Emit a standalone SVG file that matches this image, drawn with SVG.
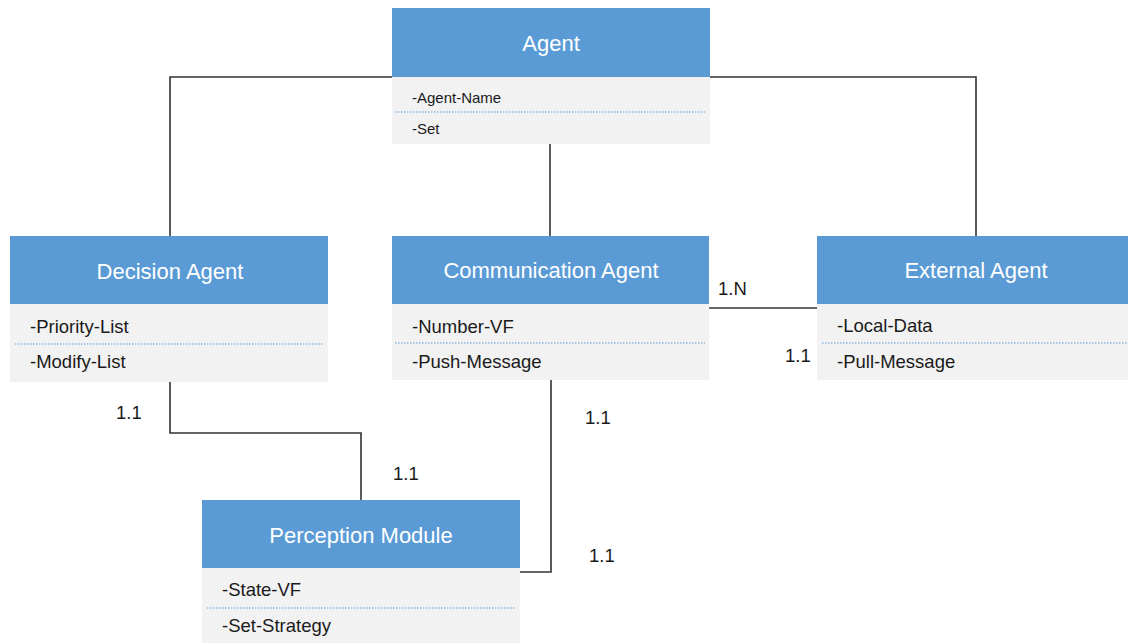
<svg xmlns="http://www.w3.org/2000/svg" width="1128" height="643" viewBox="0 0 1128 643">
<style>
.hd{fill:#5B9BD5}
.bd{fill:#F2F2F2}
.sep{stroke:#5B9BD5;stroke-width:1;stroke-dasharray:1.5 1.5;fill:none}
.ht{font-family:"Liberation Sans",Arial,sans-serif;font-size:22px;fill:#FFFFFF;text-anchor:middle}
.at{font-family:"Liberation Sans",Arial,sans-serif;font-size:18.5px;fill:#1a1a1a}
.as{font-family:"Liberation Sans",Arial,sans-serif;font-size:15px;fill:#1a1a1a}
.lb{font-family:"Liberation Sans",Arial,sans-serif;font-size:18.5px;fill:#1a1a1a}
.cn{stroke:#333333;stroke-width:1.6;fill:none}
</style>
<rect width="1128" height="643" fill="#FFFFFF"/>
<g id="connectors">
<polyline class="cn" points="392,77 170,77 170,236"/>
<polyline class="cn" points="710,77 976,77 976,236"/>
<line class="cn" x1="550" y1="144" x2="550" y2="236"/>
<polyline class="cn" points="170,382 170,433 361,433 361,500"/>
<polyline class="cn" points="551,380 551,572 520,572"/>
<line class="cn" x1="709" y1="308" x2="817" y2="308"/>
<text class="lb" x="116" y="419">1.1</text>
<text class="lb" x="393" y="480">1.1</text>
<text class="lb" x="585" y="424">1.1</text>
<text class="lb" x="589" y="562">1.1</text>
<text class="lb" x="718" y="295">1.N</text>
<text class="lb" x="785" y="362">1.1</text>
</g>
<g id="agent">
<rect class="bd" x="392" y="77" width="318" height="67"/>
<rect class="hd" x="392" y="8" width="318" height="69"/>
<text class="ht" x="551" y="51">Agent</text>
<text class="as" x="412" y="103">-Agent-Name</text>
<line class="sep" x1="395" y1="112" x2="705" y2="112"/>
<text class="as" x="412" y="134">-Set</text>
</g>
<g id="decision-agent">
<rect class="bd" x="10" y="304" width="318" height="78"/>
<rect class="hd" x="10" y="236" width="318" height="68"/>
<text class="ht" x="170" y="279">Decision Agent</text>
<text class="at" x="30" y="333">-Priority-List</text>
<line class="sep" x1="15" y1="344" x2="323" y2="344"/>
<text class="at" x="30" y="368">-Modify-List</text>
</g>
<g id="communication-agent">
<rect class="bd" x="392" y="304" width="317" height="76"/>
<rect class="hd" x="392" y="236" width="317" height="68"/>
<text class="ht" x="551" y="278">Communication Agent</text>
<text class="at" x="412" y="333">-Number-VF</text>
<line class="sep" x1="395" y1="343" x2="705" y2="343"/>
<text class="at" x="412" y="368">-Push-Message</text>
</g>
<g id="external-agent">
<rect class="bd" x="817" y="304" width="311" height="76"/>
<rect class="hd" x="817" y="236" width="311" height="68"/>
<text class="ht" x="976" y="278">External Agent</text>
<text class="at" x="837" y="332">-Local-Data</text>
<line class="sep" x1="822" y1="343" x2="1128" y2="343"/>
<text class="at" x="837" y="368">-Pull-Message</text>
</g>
<g id="perception-module">
<rect class="bd" x="202" y="568" width="318" height="75"/>
<rect class="hd" x="202" y="500" width="318" height="68"/>
<text class="ht" x="361" y="543">Perception Module</text>
<text class="at" x="222" y="596">-State-VF</text>
<line class="sep" x1="207" y1="608" x2="515" y2="608"/>
<text class="at" x="222" y="632">-Set-Strategy</text>
</g>
</svg>
